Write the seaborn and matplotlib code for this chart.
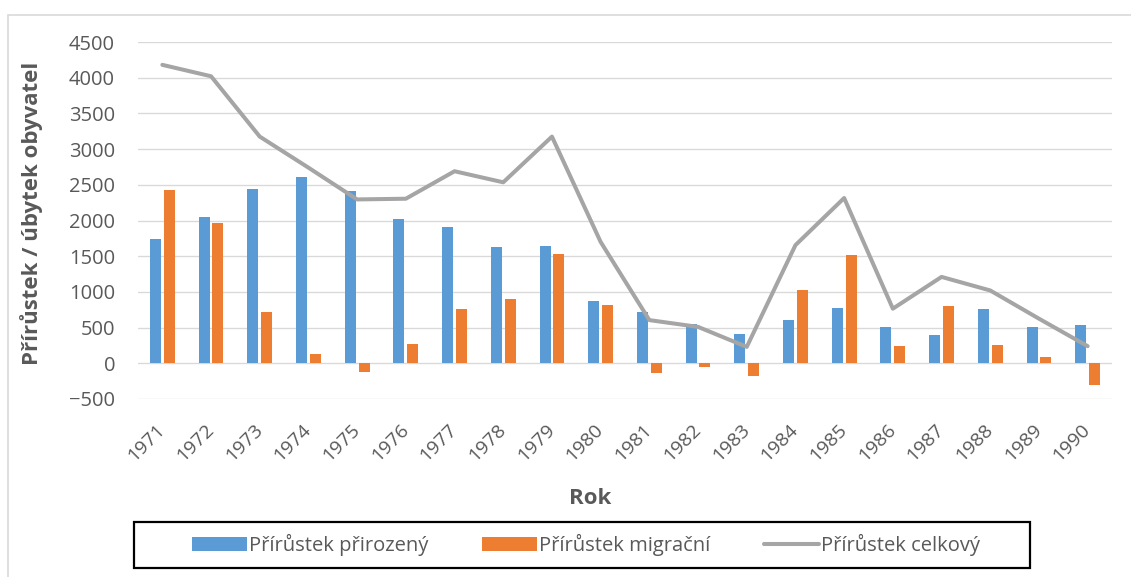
import numpy as np
import pandas as pd
import matplotlib
matplotlib.use("Agg")
import matplotlib.pyplot as plt
import seaborn as sns
from matplotlib.patches import Rectangle

# ------------------------- DATA ------------------------- #

years = [str(y) for y in range(1971, 1991)]
natural = [1745, 2045, 2440, 2610, 2410, 2020, 1915, 1635, 1640, 875,
           720, 555, 405, 610, 775, 510, 390, 755, 515, 535]
migration = [2430, 1960, 715, 125, -115, 275, 760, 900, 1530, 810,
             -130, -50, -180, 1025, 1515, 240, 805, 250, 85, -305]
total = [4180, 4020, 3175, 2740, 2295, 2305, 2690, 2535, 3175, 1700,
         605, 510, 230, 1655, 2315, 765, 1210, 1020, 625, 240]

series_names = ["Přírůstek přirozený", "Přírůstek migrační", "Přírůstek celkový"]
colors = ["#5B9BD5", "#ED7D31", "#A5A5A5"]
text_grey = "#595959"

# ------------------------- FIGURE ------------------------- #

sns.set_theme(style="white")
plt.rcParams["font.family"] = ["Open Sans", "DejaVu Sans"]

W, H = 1131, 577
fig = plt.figure(figsize=(W / 100, H / 100), dpi=100)
left, right, top, bottom = 138, 1112, 42, 399
ax = fig.add_axes([left / W, 1 - bottom / H, (right - left) / W, (bottom - top) / H])

bars = pd.DataFrame({
    "Rok": years * 2,
    "value": natural + migration,
    "series": [series_names[0]] * len(years) + [series_names[1]] * len(years),
})

sns.barplot(data=bars, x="Rok", y="value", hue="series", order=years,
            hue_order=series_names[:2], palette=colors[:2], saturation=1,
            width=0.567, gap=0.2, linewidth=0, ax=ax, legend=True, zorder=2)

sns.lineplot(x=np.arange(len(years)), y=total, color=colors[2], linewidth=2.9,
             label=series_names[2], ax=ax, zorder=3, solid_capstyle="round")

ax.set_xlim(-0.5, len(years) - 0.5)
ax.set_ylim(-500, 4500)
ax.set_yticks(np.arange(-500, 4501, 500))
ax.yaxis.grid(True, color="#D9D9D9", linewidth=0.95, zorder=0)
ax.set_axisbelow(True)
for s in ax.spines.values():
    s.set_visible(False)

ax.tick_params(axis="y", length=0, pad=16.5, labelsize=14.5, labelcolor=text_grey)
ax.tick_params(axis="x", length=0, pad=20, labelsize=14, labelcolor=text_grey)
for lbl in ax.get_xticklabels():
    lbl.set_rotation(45)
    lbl.set_ha("right")
    lbl.set_va("center")
    lbl.set_rotation_mode("anchor")

ax.set_ylabel("Přírůstek / úbytek obyvatel", fontsize=16, fontweight="bold",
              color=text_grey)
ax.yaxis.set_label_coords((43 - left) / (right - left), 0.52)
ax.set_xlabel("Rok", fontsize=16, fontweight="bold", color=text_grey)
ax.xaxis.set_label_coords((590 - left) / (right - left), -(488 - bottom) / (bottom - top))

# legend below the plot, inside a black box
handles, labels = ax.get_legend_handles_labels()
ax.get_legend().remove()
fig.legend(handles, labels, loc="center", ncol=3, frameon=False,
           bbox_to_anchor=(586 / W, 1 - 545 / H), fontsize=14.5,
           labelcolor=text_grey, handlelength=2.7, handletextpad=0.1,
           columnspacing=2.7)
fig.patches.append(Rectangle((134 / W, 1 - 568 / H), (1030 - 134) / W, 46 / H,
                             transform=fig.transFigure, fill=False,
                             edgecolor="black", linewidth=1.6))

# light chart-area border
fig.patches.append(Rectangle((8 / W, -0.1), 1.2, 1 - 15 / H + 0.1,
                             transform=fig.transFigure, fill=False,
                             edgecolor="#D9D9D9", linewidth=1.2))

fig.savefig("out.png", dpi=100)
